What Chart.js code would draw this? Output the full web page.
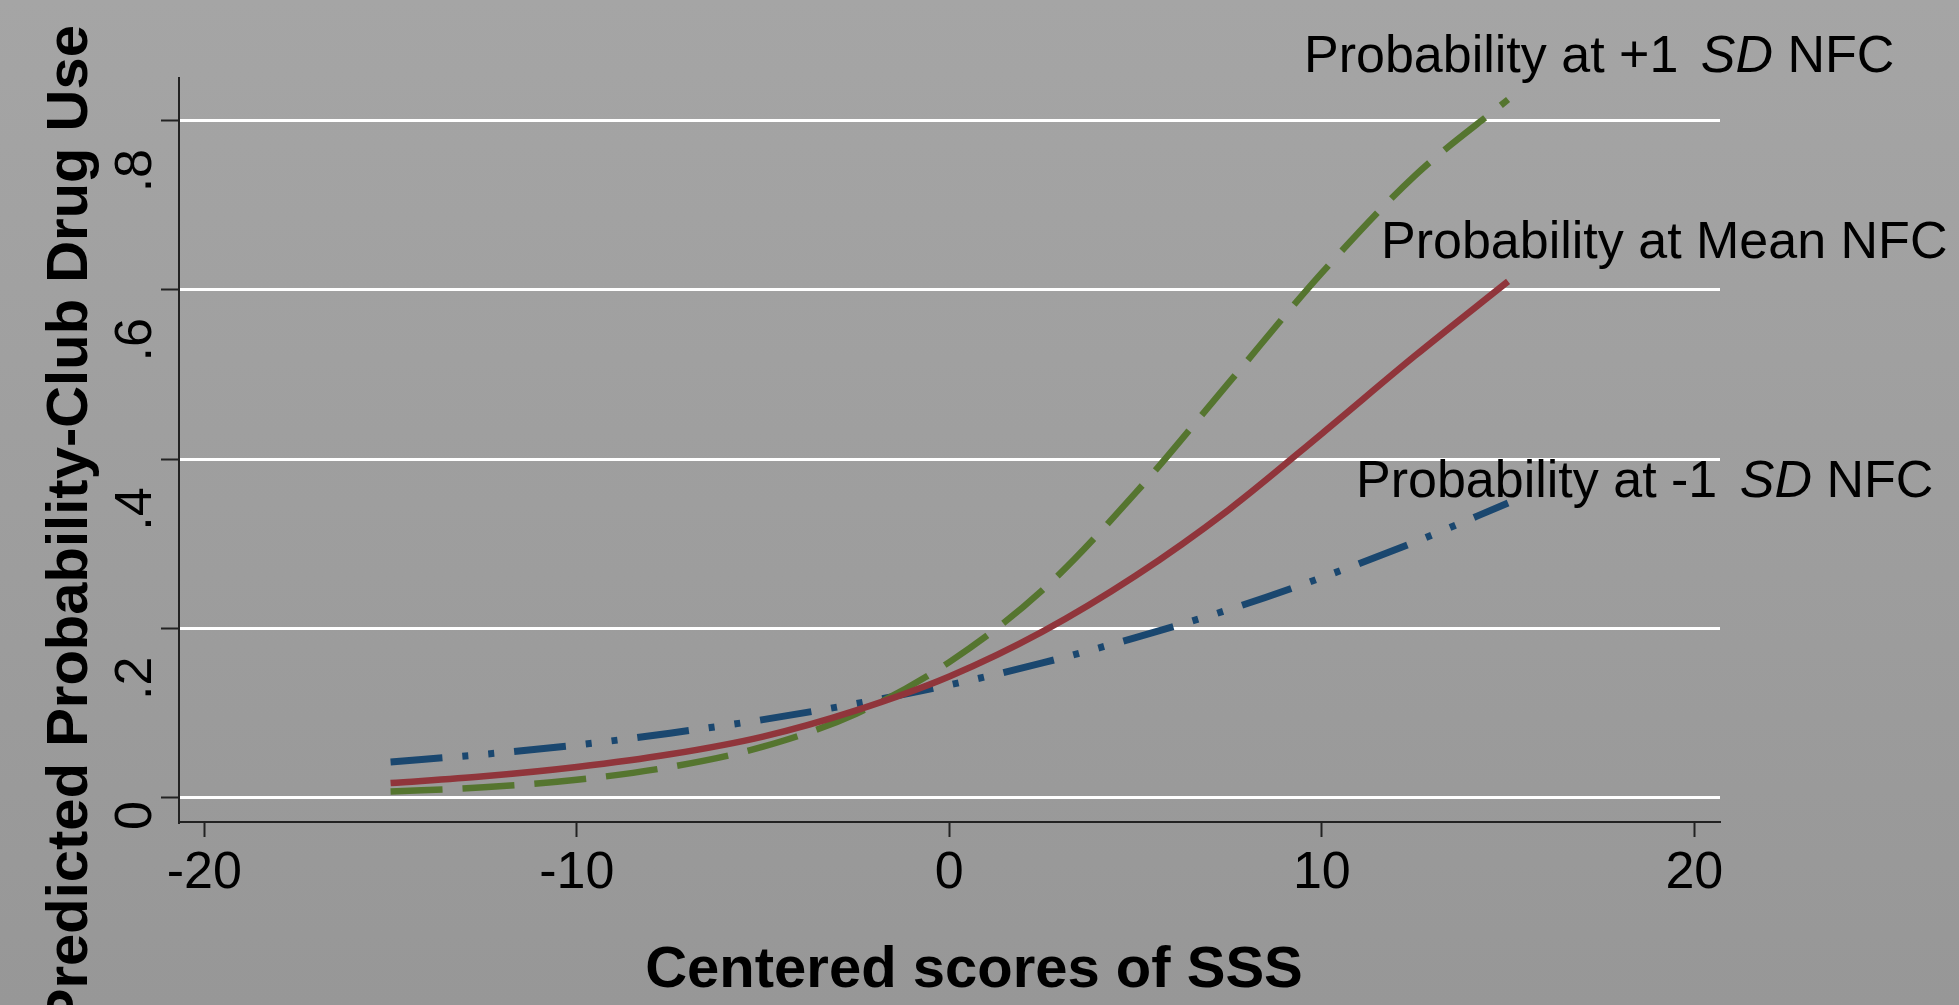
<!DOCTYPE html>
<html>
<head>
<meta charset="utf-8">
<script src="https://cdn.jsdelivr.net/npm/chart.js@4.4.1/dist/chart.umd.min.js"></script>
<style>
  html, body { margin: 0; padding: 0; overflow: hidden; }
  body { width: 1959px; height: 1005px; background: linear-gradient(#a5a5a5, #979797); }
  canvas { display: block; }
</style>
</head>
<body>
<canvas id="marginsChart" width="1959" height="1005"></canvas>
<script>
// Predicted probability of club drug use by centered SSS score
const sssScores = [-15, -12.5, -10, -7.5, -5, -2.5, 0, 2.5, 5, 7.5, 10, 12.5, 15];
const probPlus1SD = [0.007, 0.012, 0.021, 0.036, 0.060, 0.099, 0.160, 0.245, 0.360, 0.490, 0.620, 0.735, 0.825];
const probMean = [0.017, 0.025, 0.036, 0.051, 0.072, 0.103, 0.143, 0.196, 0.262, 0.340, 0.430, 0.522, 0.610];
const probMinus1SD = [0.042, 0.051, 0.062, 0.076, 0.092, 0.111, 0.133, 0.159, 0.189, 0.222, 0.260, 0.302, 0.348];

const xTickValues = [-20, -10, 0, 10, 20];
const yTickValues = [0, 0.2, 0.4, 0.6, 0.8];
const yTickLabels = ['0', '.2', '.4', '.6', '.8'];

const FONT = '"Liberation Sans", Arial, Helvetica, sans-serif';

function toPoints(values) {
    return sssScores.map(function(x, i) { return { x: x, y: values[i] }; });
}

// draws a line of text made of normal / italic pieces
function drawRich(ctx, parts, x, y) {
    parts.forEach(function(p) {
        ctx.font = (p.italic ? 'italic ' : '') + '52px ' + FONT;
        x += p.gap || 0;
        ctx.fillText(p.text, x, y);
        x += ctx.measureText(p.text).width;
    });
}

const stataText = {
    id: 'stataText',
    afterDraw(chart) {
        const ctx = chart.ctx;
        const yScale = chart.scales.y;
        ctx.save();
        ctx.fillStyle = '#000';
        ctx.textBaseline = 'alphabetic';

        // vertical y tick labels
        ctx.font = '52px ' + FONT;
        ctx.textAlign = 'center';
        yTickValues.forEach(function(v, i) {
            const y = yScale.getPixelForValue(v) + (v === 0 ? 18 : 50);
            ctx.save();
            ctx.translate(151, y);
            ctx.rotate(-Math.PI / 2);
            ctx.fillText(yTickLabels[i], 0, 0);
            ctx.restore();
        });

        // y axis title
        ctx.font = 'bold 58px ' + FONT;
        ctx.textAlign = 'right';
        ctx.save();
        ctx.translate(87, 25);
        ctx.rotate(-Math.PI / 2);
        ctx.fillText('Predicted Probability-Club Drug Use', 0, 0);
        ctx.restore();

        // x axis title
        ctx.textAlign = 'center';
        ctx.fillText('Centered scores of SSS', 974, 987);

        // line labels
        ctx.textAlign = 'left';
        drawRich(ctx, [{ text: 'Probability at +1 ' }, { text: 'SD', italic: true, gap: 8 }, { text: ' NFC' }], 1304, 72);
        drawRich(ctx, [{ text: 'Probability at Mean NFC' }], 1381, 258);
        drawRich(ctx, [{ text: 'Probability at -1 ' }, { text: 'SD', italic: true, gap: 8 }, { text: ' NFC' }], 1356, 497);
        ctx.restore();
    }
};

document.addEventListener('DOMContentLoaded', function() {
    const ctx = document.getElementById('marginsChart').getContext('2d');

    new Chart(ctx, {
        type: 'line',
        data: {
            datasets: [
                {
                    label: 'Probability at Mean NFC',
                    data: toPoints(probMean),
                    borderColor: '#90353b',
                    borderWidth: 6.5,
                    order: 1
                },
                {
                    label: 'Probability at +1 SD NFC',
                    data: toPoints(probPlus1SD),
                    borderColor: '#55752f',
                    borderWidth: 6.5,
                    borderDash: [52, 20],
                    order: 2
                },
                {
                    label: 'Probability at -1 SD NFC',
                    data: toPoints(probMinus1SD),
                    borderColor: '#1a476f',
                    borderWidth: 7,
                    borderDash: [52, 20, 6, 20, 6, 20],
                    order: 3
                }
            ]
        },
        options: {
            responsive: false,
            animation: false,
            datasets: {
                line: {
                    pointRadius: 0,
                    fill: false,
                    cubicInterpolationMode: 'monotone',
                    borderCapStyle: 'butt'
                }
            },
            layout: {
                padding: { top: 77.5, right: 239, left: 0, bottom: 0 }
            },
            plugins: {
                legend: { display: false },
                tooltip: { enabled: false }
            },
            scales: {
                x: {
                    type: 'linear',
                    min: -20.68,
                    max: 20.69,
                    afterBuildTicks: function(scale) {
                        scale.ticks = xTickValues.map(function(v) { return { value: v }; });
                    },
                    afterFit: function(scale) { scale.height = 183; },
                    grid: {
                        drawOnChartArea: false,
                        drawTicks: true,
                        tickLength: 15,
                        tickColor: '#222',
                        tickWidth: 2
                    },
                    border: { color: '#222', width: 2 },
                    ticks: {
                        color: '#000',
                        padding: 5,
                        font: { size: 52, family: FONT }
                    }
                },
                y: {
                    type: 'linear',
                    min: -0.029,
                    max: 0.851,
                    afterBuildTicks: function(scale) {
                        scale.ticks = yTickValues.map(function(v) { return { value: v }; });
                    },
                    afterFit: function(scale) { scale.width = 179; },
                    grid: {
                        color: '#ffffff',
                        lineWidth: 3,
                        drawTicks: true,
                        tickLength: 18,
                        tickColor: '#222',
                        tickWidth: 2
                    },
                    border: { color: '#222', width: 2 },
                    ticks: { display: false }
                }
            }
        },
        plugins: [stataText]
    });
});
</script>
</body>
</html>
